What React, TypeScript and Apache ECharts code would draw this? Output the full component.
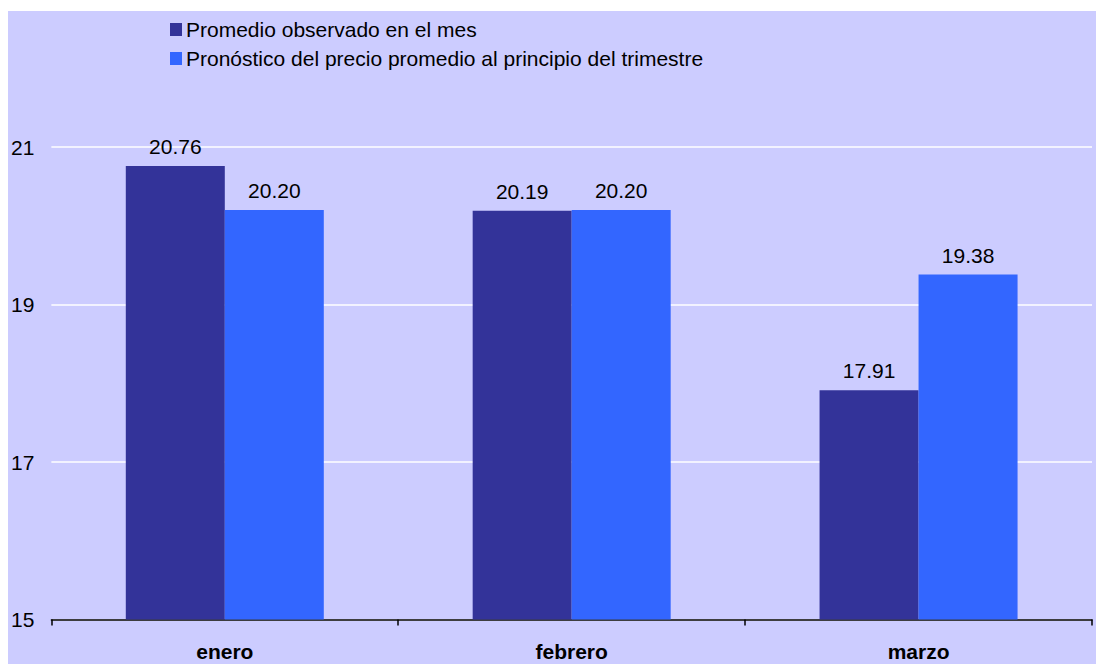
import React, { useEffect, useRef } from "react";
import * as echarts from "echarts";

const categories = ["enero", "febrero", "marzo"];
const observado = [20.76, 20.19, 17.91];
const pronostico = [20.2, 20.2, 19.38];
const seriesNames = [
  "Promedio observado en el mes",
  "Pronóstico del precio promedio al principio del trimestre",
];
const yMin = 15;
const yMax = 21;
const yStep = 2;

export default function App() {
  const ref = useRef<HTMLDivElement>(null);
  useEffect(() => {
    if (!ref.current) return;
    const chart = echarts.init(ref.current, null, { renderer: "svg" });
    const font = "'Liberation Sans', Arial, sans-serif";
    const label = {
      show: true,
      position: "top",
      distance: 9,
      color: "#000",
      fontSize: 21,
      fontFamily: font,
      formatter: (p: any) => Number(p.value).toFixed(2),
    };
    chart.setOption({
      animation: false,
      backgroundColor: "#CCCCFF",
      textStyle: { fontFamily: font },
      legend: {
        orient: "vertical",
        left: 162,
        top: 8,
        padding: 0,
        itemWidth: 12,
        itemHeight: 13,
        itemGap: 8,
        icon: "rect",
        textStyle: { fontSize: 21, color: "#000", fontFamily: font, padding: [0, 0, 0, -1] },
        data: seriesNames,
      },
      grid: { left: 43, right: 4, top: 136, bottom: 44.5 },
      xAxis: {
        type: "category",
        data: categories,
        axisLine: { lineStyle: { color: "#000", width: 1.5 } },
        axisTick: { show: true, length: 6, lineStyle: { color: "#000", width: 1.5 } },
        axisLabel: {
          color: "#000",
          fontSize: 21,
          fontWeight: "bold",
          fontFamily: font,
          margin: 21,
        },
      },
      yAxis: {
        type: "value",
        min: yMin,
        max: yMax,
        interval: yStep,
        axisLine: { show: false },
        axisTick: { show: false },
        axisLabel: { color: "#000", fontSize: 21, fontFamily: font, margin: 17, verticalAlign: "middle", lineHeight: 21, padding: [6, 0, 0, 0] },
        splitLine: { lineStyle: { color: "#FFFFFF", width: 1.5 } },
      },
      series: [
        {
          name: seriesNames[0],
          type: "bar",
          data: observado,
          barWidth: 99,
          barGap: "0%",
          itemStyle: { color: "#333399" },
          label,
        },
        {
          name: seriesNames[1],
          type: "bar",
          data: pronostico,
          barWidth: 99,
          barGap: "0%",
          itemStyle: { color: "#3366FF" },
          label,
        },
      ],
    });
    return () => chart.dispose();
  }, []);
  return (
    <div
      ref={ref}
      style={{ position: "absolute", left: 8, top: 11, width: 1088, height: 653 }}
    />
  );
}
